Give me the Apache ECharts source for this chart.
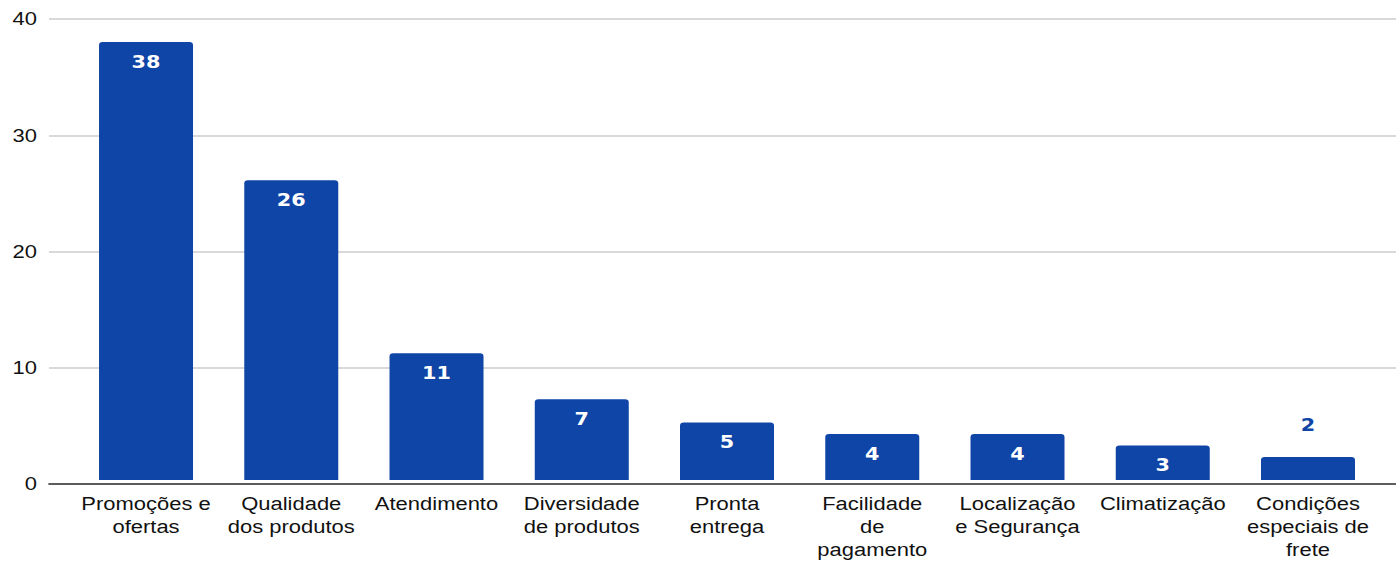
<!DOCTYPE html>
<html><head><meta charset="utf-8">
<script src="https://cdn.jsdelivr.net/npm/echarts@6/dist/echarts.min.js"></script>
<style>html,body{margin:0;padding:0;background:#fff;overflow:hidden}
#wrap{width:1396px;height:561px;overflow:hidden}
#c{width:1144px;height:561px;transform:scaleX(1.2203);transform-origin:0 0}</style>
</head><body><div id="wrap"><div id="c"></div></div>
<script>
const categories = ["Promoções e\nofertas","Qualidade\ndos produtos","Atendimento","Diversidade\nde produtos","Pronta\nentrega","Facilidade\nde\npagamento","Localização\ne Segurança","Climatização","Condições\nespeciais de\nfrete"];
const values = [38,26,11,7,5,4,4,3,2];
const yTicks = [0,10,20,30,40];
const barColor = '#0f45a6';
const font = 'Liberation Sans, Arial, sans-serif';
const S = 1.2203;
const chart = echarts.init(document.getElementById('c'), null, {renderer:'svg'});
const data = values.map((v,i)=> i===values.length-1 ? {value:v,label:{position:'top',distance:24,color:barColor}} : v);
chart.setOption({
  animation:false,
  grid:[{left:49/S,right:0,top:19,bottom:77},{left:73.4/S,right:15.4/S,top:19,bottom:77}],
  xAxis:[
    {gridIndex:0,type:'value',min:0,max:1,axisLine:{show:true,lineStyle:{color:'#333',width:1.5}},axisTick:{show:false},axisLabel:{show:false},splitLine:{show:false}},
    {gridIndex:1,type:'category',data:categories,axisLine:{show:false},axisTick:{show:false},
     axisLabel:{interval:0,color:'#111',fontSize:18,fontFamily:font,lineHeight:23,margin:12}}
  ],
  yAxis:[
    {gridIndex:0,type:'value',min:yTicks[0],max:yTicks[yTicks.length-1],interval:10,
     axisLine:{show:false},axisTick:{show:false},
     axisLabel:{color:'#111',fontSize:18,fontFamily:font,margin:12/S},
     splitLine:{lineStyle:{color:'#cccccc',width:1.5}}},
    {gridIndex:1,type:'value',min:0,max:40,show:false}
  ],
  series:[{type:'bar',xAxisIndex:1,yAxisIndex:1,data:data,barWidth:94/S,
    itemStyle:{color:barColor,borderRadius:[3,3,0,0]},
    label:{show:true,position:'insideTop',distance:11,color:'#fff',fontWeight:'bold',fontSize:17,fontFamily:'DejaVu Sans, sans-serif'}}]
});
</script></body></html>
